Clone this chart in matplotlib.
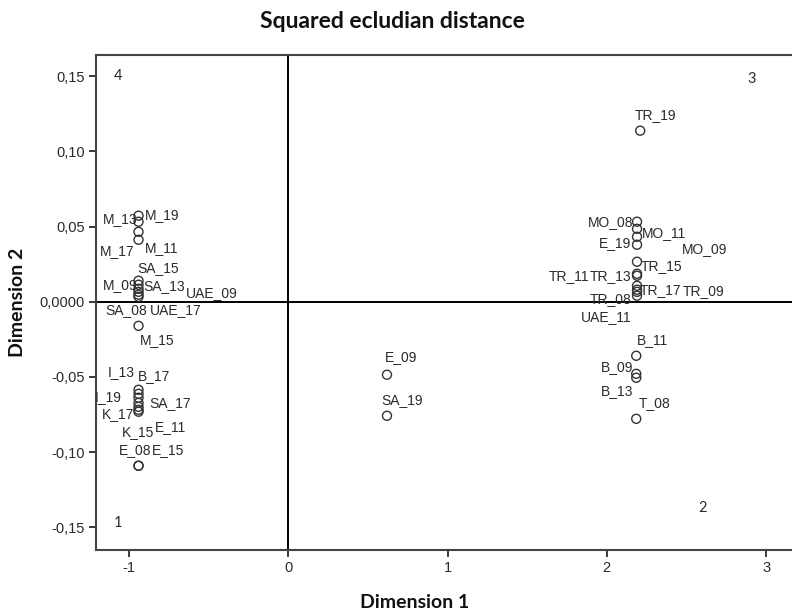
import matplotlib
matplotlib.use('Agg')
import matplotlib.pyplot as plt

# object labels and their coordinates on the two dimensions
names = ['M_19', 'M_13', 'M_17', 'M_11', 'SA_15', 'SA_13', 'M_09', 'UAE_09', 'SA_08', 'UAE_17',
         'M_15', 'B_17', 'I_13', 'I_19', 'SA_17', 'K_17', 'K_15', 'E_11', 'E_08', 'E_15',
         'E_09', 'SA_19',
         'TR_19', 'MO_08', 'MO_11', 'E_19', 'MO_09', 'TR_15', 'TR_11', 'TR_13', 'TR_17', 'TR_09',
         'TR_08', 'UAE_11', 'B_11', 'B_09', 'B_13', 'T_08']
dim1 = [-0.94, -0.94, -0.94, -0.94, -0.94, -0.94, -0.94, -0.94, -0.94, -0.94,
        -0.94, -0.94, -0.94, -0.94, -0.94, -0.94, -0.94, -0.94, -0.94, -0.94,
        0.62, 0.62,
        2.21, 2.19, 2.19, 2.19, 2.19, 2.19, 2.19, 2.19, 2.19, 2.19,
        2.19, 2.19, 2.185, 2.185, 2.185, 2.185]
dim2 = [0.0572, 0.0532, 0.0465, 0.0412, 0.0140, 0.0113, 0.0086, 0.0066, 0.0047, 0.0033,
        -0.0160, -0.0585, -0.0612, -0.0638, -0.0672, -0.0698, -0.0718, -0.0731, -0.1090, -0.1090,
        -0.0485, -0.0758,
        0.1137, 0.0532, 0.0485, 0.0432, 0.0379, 0.0266, 0.0186, 0.0173, 0.0106, 0.0080,
        0.0040, 0.0066, -0.0359, -0.0479, -0.0505, -0.0778]

yticks = [-0.15, -0.10, -0.05, 0.0, 0.05, 0.10, 0.15]
ytick_labels = ['-0,15', '-0,10', '-0,05', '0,0000', '0,05', '0,10', '0,15']
xticks = [-1, 0, 1, 2, 3]
quadrants = ['4', '3', '1', '2']
quad_x = [-1.07, 2.91, -1.07, 2.60]
quad_y = [0.150, 0.148, -0.147, -0.137]

# label placement (pixel offset from the point, alignment)
offsets = {
    'M_19': (6, 1, 'left'), 'M_13': (-1, 3, 'right'), 'M_17': (-4, -19, 'right'),
    'M_11': (6, -8, 'left'), 'SA_15': (-1, 13, 'left'), 'SA_13': (5, -1, 'left'),
    'M_09': (-1, 4, 'right'), 'UAE_09': (47, -1, 'left'), 'SA_08': (9, -15, 'right'),
    'UAE_17': (11, -13, 'left'), 'M_15': (1, -14, 'left'), 'B_17': (-1, 14, 'left'),
    'I_13': (-4, 22, 'right'), 'I_19': (-17, 1, 'right'), 'SA_17': (11, 0, 'left'),
    'K_17': (-4, -7, 'right'), 'K_15': (16, -22, 'right'), 'E_11': (16, -15, 'left'),
    'E_08': (13, 16, 'right'), 'E_15': (13, 16, 'left'),
    'E_09': (-2, 18, 'left'), 'SA_19': (-6, 16, 'left'),
    'TR_19': (-5, 16, 'left'), 'MO_08': (-4, 0, 'right'), 'MO_11': (5, -4, 'left'),
    'E_19': (-6, -6, 'right'), 'MO_09': (45, -4, 'left'), 'TR_15': (4, -4, 'left'),
    'TR_11': (-48, -2, 'right'), 'TR_13': (-6, 0, 'right'), 'TR_17': (3, -4, 'left'),
    'TR_09': (46, -1, 'left'), 'TR_08': (-6, -3, 'right'), 'UAE_11': (-6, -25, 'right'),
    'B_11': (1, 16, 'left'), 'B_09': (-3, 7, 'right'), 'B_13': (-3, -13, 'right'),
    'T_08': (3, 16, 'left'),
}

ink = '#2a2a2a'
plt.rcParams['font.family'] = ['Liberation Sans', 'DejaVu Sans']

fig = plt.figure(figsize=(7.92, 6.15), dpi=100)
ax = fig.add_axes([96 / 792, 1 - 550 / 615, 1 - 96 / 792, (550 - 55) / 615])

ax.axhline(0, color='black', lw=1.4, zorder=1)
ax.axvline(0, color='black', lw=1.4, zorder=1)

ax.scatter(dim1, dim2, s=42, facecolors='none', edgecolors='#333333', linewidths=1.0, zorder=3)

for n, x, y in zip(names, dim1, dim2):
    dx, dy, ha = offsets[n]
    ax.annotate(n, (x, y), xytext=(dx, dy), textcoords='offset pixels',
                ha=ha, va='center', fontsize=10, color=ink, zorder=4)

for q, x, y in zip(quadrants, quad_x, quad_y):
    ax.text(x, y, q, ha='center', va='center', fontsize=10.5, color=ink, family='Lato')

ax.set_xlim(-1.207, 3.163)
ax.set_ylim(-0.165, 0.164)
ax.set_xticks(xticks)
ax.set_xticklabels([str(t) for t in xticks])
ax.set_yticks(yticks)
ax.set_yticklabels(ytick_labels)
ax.tick_params(direction='out', length=5, width=1.3, colors=ink, labelsize=10.5, pad=3)

for side in ['left', 'bottom', 'top']:
    ax.spines[side].set_linewidth(1.5)
    ax.spines[side].set_color('#444444')
ax.spines['right'].set_visible(False)

ax.set_xlabel('Dimension 1', fontsize=14, fontweight='bold', family='Lato', color='#111111')
ax.xaxis.set_label_coords((415 - 96) / (792 - 96), -(603 - 550) / (550 - 55), transform=ax.transAxes)
ax.xaxis.label.set_va('center')
ax.set_ylabel('Dimension 2', fontsize=14, fontweight='bold', family='Lato', color='#111111')
ax.yaxis.set_label_coords(-(96 - 18) / (792 - 96), (550 - 302) / (550 - 55), transform=ax.transAxes)
ax.yaxis.label.set_va('center')
fig.text(392 / 792, 1 - 22 / 615, 'Squared ecludian distance', ha='center', va='center',
         fontsize=16.5, fontweight='bold', family='Lato', color='#111111')

plt.savefig('out.png', dpi=100)
plt.close()
